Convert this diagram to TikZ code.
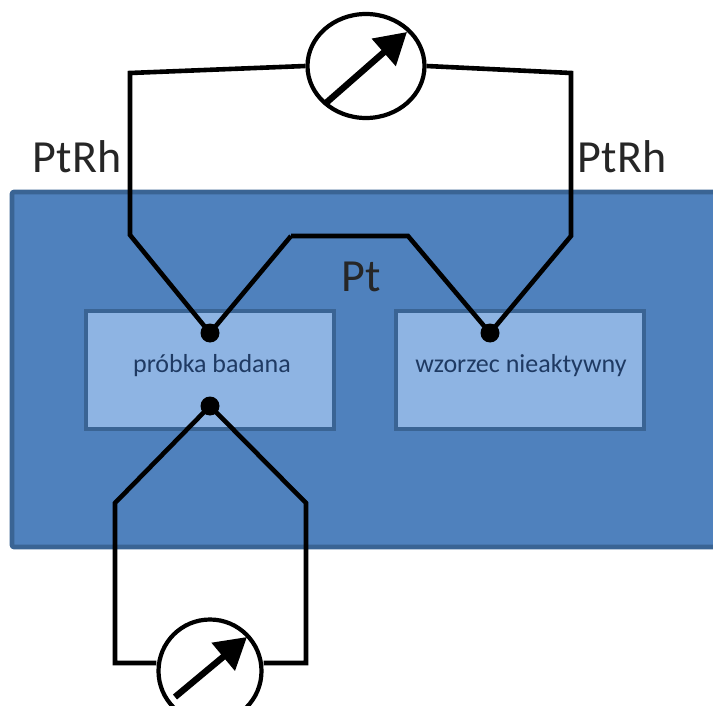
\documentclass[tikz,border=0pt]{standalone}
\usepackage{fontspec}
\setmainfont{Carlito}
\usetikzlibrary{shapes.geometric,arrows.meta}
\definecolor{outerfill}{HTML}{4F81BD}
\definecolor{outeredge}{HTML}{3A6494}
\definecolor{innerfill}{HTML}{8EB4E3}
\definecolor{innertext}{HTML}{1F3A63}
\tikzset{
  wire/.style={draw=black,line width=4.6pt,line join=miter},
  panel/.style={draw=outeredge,line width=4.4pt,fill=innerfill,minimum width=248pt,minimum height=118pt,inner sep=0pt},
  paneltext/.style={inner sep=0pt,text=innertext,font=\fontsize{26}{28}\selectfont},
  joint/.style={circle,fill=black,minimum size=19pt,inner sep=0pt},
  meter/.style={ellipse,draw=black,line width=4.2pt,fill=white,inner sep=0pt},
  needle/.style={draw=black,line width=6.4pt,-{Triangle[length=31pt,width=35pt]}},
  biglabel/.style={font=\fontsize{46}{50}\selectfont,inner sep=0pt,text=black!85},
}
\begin{document}
\begin{tikzpicture}[x=1pt,y=-1pt]
\useasboundingbox (0,0) rectangle (713,706);
\clip (0,0) rectangle (713,706);
\draw[draw=outeredge,line width=4.6pt,fill=outerfill,rounded corners=2pt] (12,192) rectangle (730,547);
\node[panel] (sample) at (210,370) {};
\node[panel] (reference) at (520,370) {};
\node[paneltext] (sampletext) at (212,366) {próbka badana};
\node[paneltext] (referencetext) at (521,366) {wzorzec nieaktywny};
\node[biglabel] (ptrhL) at (77,157) {PtRh};
\node[biglabel] (ptrhR) at (622,157) {PtRh};
\node[biglabel] (pt) at (361,277) {Pt};
\node[joint] (ja) at (210,333) {};
\node[joint] (jb) at (490,333) {};
\node[joint] (jc) at (210,406) {};
\node[meter,minimum width=117pt,minimum height=104pt] (mtop) at (366,66) {};
\node[meter,minimum width=103pt,minimum height=103pt] (mbot) at (210,671) {};
\coordinate (a1) at (130,73);
\coordinate (a2) at (130,235);
\coordinate (b1) at (291,236);
\coordinate (b2) at (408,236);
\coordinate (c1) at (571,236);
\coordinate (c2) at (571,73);
\coordinate (d1) at (115,503);
\coordinate (d2) at (115,663);
\coordinate (e1) at (306,503);
\coordinate (e2) at (306,663);
\draw[wire] (mtop.west) -- (a1) -- (a2) -- (ja.center);
\draw[wire] (ja.center) -- (b1);
\draw[wire] (b1) -- (b2) -- (jb.center) -- (c1) -- (c2) -- (mtop.east);
\draw[wire] (jc.center) -- (d1) -- (d2) -- (mbot.west |- d2);
\draw[wire] (jc.center) -- (e1) -- (e2) -- (mbot.east |- e2);
\coordinate (ntopS) at (326,103);
\coordinate (ntopE) at (407,32);
\coordinate (nbotS) at (175,697);
\coordinate (nbotE) at (247,637);
\draw[needle] (ntopS) -- (ntopE);
\draw[needle] (nbotS) -- (nbotE);
\end{tikzpicture}
\end{document}
